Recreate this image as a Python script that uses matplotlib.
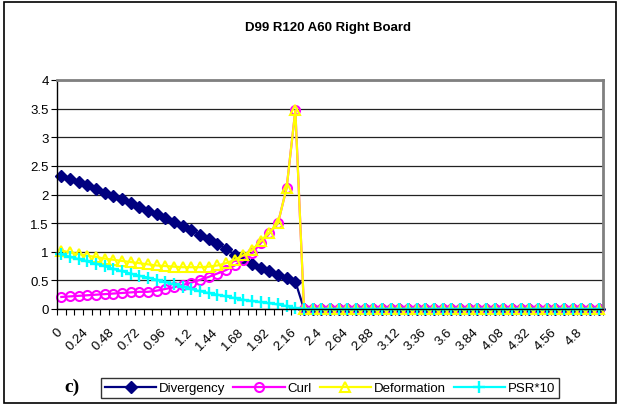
import matplotlib
matplotlib.use("Agg")
import matplotlib.pyplot as plt
from matplotlib.patches import Rectangle
from matplotlib.ticker import FixedLocator, FuncFormatter
from matplotlib.transforms import ScaledTranslation
import numpy as np

plt.rcParams['font.family'] = ['Liberation Sans', 'DejaVu Sans']

x_values = [round(i * 0.08, 2) for i in range(63)]
x_labels = [f"{v:g}" for v in x_values]

divergency = [2.32, 2.27, 2.21, 2.16, 2.09, 2.03, 1.98, 1.92, 1.86, 1.79,
              1.72, 1.66, 1.59, 1.52, 1.45, 1.38, 1.30, 1.22, 1.14, 1.05,
              0.95, 0.87, 0.79, 0.72, 0.66, 0.59, 0.55, 0.48] + [0.0] * 35
curl = [0.21, 0.22, 0.23, 0.24, 0.25, 0.26, 0.27, 0.28, 0.29, 0.30,
        0.30, 0.32, 0.35, 0.38, 0.42, 0.46, 0.51, 0.56, 0.62, 0.68,
        0.76, 0.85, 0.97, 1.15, 1.32, 1.50, 2.12, 3.47] + [0.0] * 35
deformation = [1.02, 0.99, 0.96, 0.93, 0.91, 0.88, 0.86, 0.84, 0.82, 0.80,
               0.78, 0.76, 0.75, 0.74, 0.73, 0.73, 0.73, 0.74, 0.76, 0.80,
               0.86, 0.94, 1.03, 1.18, 1.33, 1.50, 2.12, 3.47] + [0.0] * 35
psr10 = [0.96, 0.91, 0.87, 0.83, 0.79, 0.75, 0.70, 0.66, 0.62, 0.58,
         0.55, 0.51, 0.47, 0.43, 0.39, 0.35, 0.31, 0.28, 0.25, 0.22,
         0.19, 0.16, 0.14, 0.12, 0.10, 0.08, 0.05, 0.01] + [0.0] * 35

W, H = 619, 406
fig = plt.figure(figsize=(W / 100, H / 100), dpi=100)
ax = fig.add_axes([57 / W, 1 - 310 / H, (603 - 57) / W, (310 - 81) / H])

idx = np.arange(len(x_values))
ax.plot(idx, divergency, color='#000080', lw=1.6, marker='D', ms=6.2,
        mfc='#000080', mec='#000080', label='Divergency', clip_on=False)
ax.plot(idx, curl, color='#FF00FF', lw=1.6, marker='o', ms=6.5,
        mfc='none', mec='#FF00FF', mew=1.5, label='Curl', clip_on=False)
ax.plot(idx, deformation, color='#FFFF00', lw=1.6, marker='^', ms=7,
        mfc='none', mec='#FFFF00', mew=1.5, label='Deformation', clip_on=False)
ax.plot(idx, psr10, color='#00FFFF', lw=1.6, marker='+', ms=8.5,
        mec='#00FFFF', mew=1.7, label='PSR*10', clip_on=False)

ax.set_xlim(-0.5, len(x_values) - 0.5)
ax.set_ylim(0, 4)
ax.set_yticks(np.arange(0, 4.01, 0.5))
ax.yaxis.set_major_formatter(FuncFormatter(lambda v, p: f"{v:g}"))
ax.grid(axis='y', color='#222222', lw=0.9)
ax.set_axisbelow(True)

label_pos = idx[::3]
ax.xaxis.set_major_locator(FixedLocator(label_pos))
ax.set_xticklabels([x_labels[i] for i in label_pos], rotation=45,
                   ha='right', rotation_mode='anchor', fontsize=9.5)
ax.xaxis.set_minor_locator(FixedLocator(np.arange(-0.5, len(x_values), 1)))
ax.tick_params(axis='x', which='major', length=0, pad=12)
ax.tick_params(axis='x', which='minor', length=4, width=0.8, direction='out')
ax.tick_params(axis='y', length=4, width=0.8, direction='out', labelsize=9.5, pad=2)
offset = ScaledTranslation(-5 / 100, 0, fig.dpi_scale_trans)
for lbl in ax.get_xticklabels():
    lbl.set_transform(lbl.get_transform() + offset)

for s in ['top', 'right']:
    ax.spines[s].set_color('#808080')
    ax.spines[s].set_linewidth(2)
for s in ['left', 'bottom']:
    ax.spines[s].set_color('black')
    ax.spines[s].set_linewidth(1)

fig.text(328 / W, 1 - 28 / H, 'D99 R120 A60 Right Board', ha='center',
         va='center', fontsize=9.5, fontweight='bold')
fig.text(64 / W, 1 - 387 / H, 'c)', ha='left', va='center', fontsize=14,
         fontweight='bold', family=['Liberation Serif', 'DejaVu Serif'])

leg = fig.legend(loc='center', bbox_to_anchor=(330 / W, 1 - 389 / H), ncol=4,
                 fontsize=9.5, frameon=True, fancybox=False, edgecolor='black',
                 handlelength=3.9, columnspacing=0.6, handletextpad=0.2,
                 borderpad=0.3, borderaxespad=0)
leg.get_frame().set_linewidth(1)

fig.patches.append(Rectangle((4 / W, 2 / H), (616 - 4) / W, (403 - 2) / H,
                             transform=fig.transFigure, fill=False,
                             edgecolor='black', lw=1.2))

fig.savefig('out.png', dpi=100)
